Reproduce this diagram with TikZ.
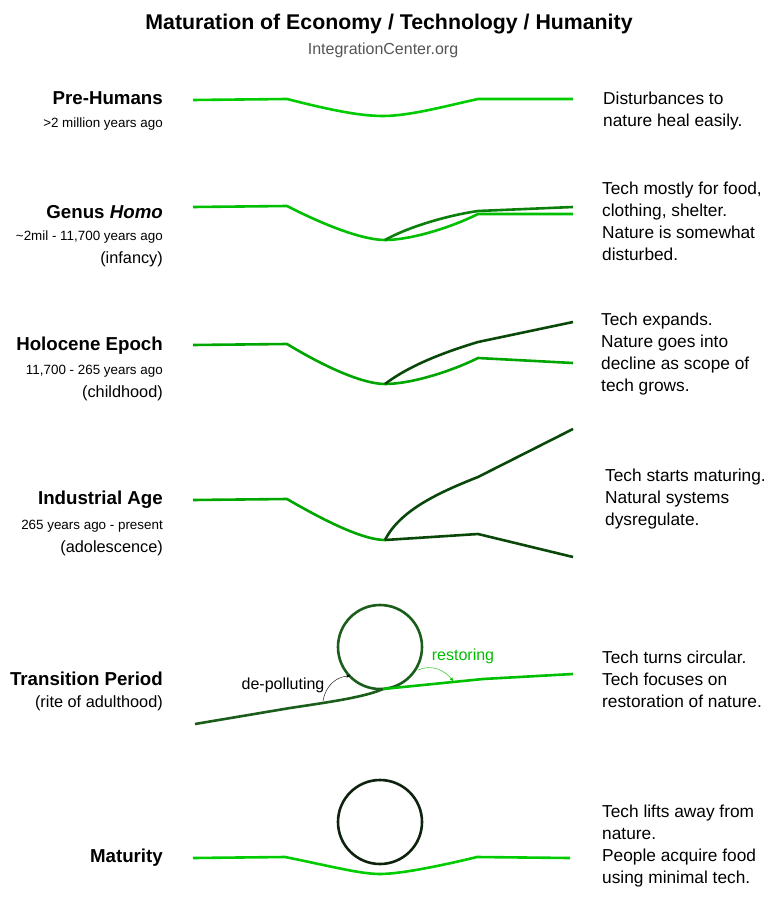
\documentclass[tikz,border=0pt]{standalone}
\usepackage{fontspec}
\setmainfont{Liberation Sans}
\usetikzlibrary{arrows}
\definecolor{natlight}{HTML}{00CC00}
\definecolor{natmid}{HTML}{00BE00}
\definecolor{natdark}{HTML}{00A600}
\definecolor{techmid}{HTML}{0A7F0A}
\definecolor{techdark}{HTML}{0A480A}
\definecolor{circ}{HTML}{1B5E1B}
\definecolor{circdark}{HTML}{0E220E}
\definecolor{webgray}{HTML}{555555}

\begin{document}
\begin{tikzpicture}[x=1pt, y=-1pt,
  ln/.style={line width=2.6pt, line join=round},
  lbl/.style={anchor=east, inner sep=0, font=\bfseries\fontsize{18.7}{22}\selectfont},
  when/.style={anchor=east, inner sep=0, font=\fontsize{13.4}{15}\selectfont},
  stage/.style={anchor=east, inner sep=0, font=\fontsize{16.3}{20}\selectfont},
  note/.style={anchor=west, inner sep=0, align=left, font=\fontsize{17.3}{22}\selectfont},
  tag/.style={inner sep=0, font=\fontsize{16}{20}\selectfont}]
\useasboundingbox (0,0) rectangle (774,901);

% title
\node[font=\bfseries\fontsize{21.3}{24}\selectfont] (title) at (389,24) {Maturation of Economy / Technology / Humanity};
\node[font=\fontsize{16}{18}\selectfont, text=webgray] (site) at (383,50) {IntegrationCenter.org};

% stages, left side
\node[lbl] (pre) at (163,98) {Pre-Humans};
\node[when] (preT) at (163,124) {>2 million years ago};
\node[lbl] (genus) at (163,212) {Genus \textit{Homo}};
\node[when] (genusT) at (163,237) {\textasciitilde2mil - 11,700 years ago};
\node[stage] (genusS) at (163,259) {(infancy)};
\node[lbl] (holo) at (163,346) {Holocene Epoch};
\node[when] (holoT) at (163,371) {11,700 - 265 years ago};
\node[stage] (holoS) at (163,393) {(childhood)};
\node[lbl] (indus) at (163,500) {Industrial Age};
\node[when] (indusT) at (163,526) {265 years ago - present};
\node[stage] (indusS) at (163,548) {(adolescence)};
\node[lbl] (trans) at (163,679) {Transition Period};
\node[stage] (transS) at (163,703) {(rite of adulthood)};
\node[lbl] (matur) at (163,858) {Maturity};

% notes, right side
\node[note] (preN) at (603,111) {Disturbances to\\nature heal easily.};
\node[note] (genusN) at (602,221) {Tech mostly for food,\\clothing, shelter.\\Nature is somewhat\\disturbed.};
\node[note] (holoN) at (601,354) {Tech expands.\\Nature goes into\\decline as scope of\\tech grows.};
\node[note] (indusN) at (605,499) {Tech starts maturing.\\Natural systems\\dysregulate.};
\node[note] (transN) at (602,679) {Tech turns circular.\\Tech focuses on\\restoration of nature.};
\node[note] (maturN) at (602,846) {Tech lifts away from\\nature.\\People acquire food\\using minimal tech.};

% pre-humans
\draw[ln, natlight] (193,100) -- (287,99) .. controls (330,110) and (360,116) .. (383,116)
  .. controls (410,116) and (450,105) .. (478,99) -- (573,99);
% genus homo
\draw[ln, natmid] (193,207) -- (287,206) .. controls (330,228) and (365,240) .. (385,240)
  .. controls (410,240) and (450,228) .. (478,214) -- (573,214);
\draw[ln, techmid] (385,240) .. controls (410,226) and (450,215) .. (478,211) -- (573,207);
% holocene
\draw[ln, natdark] (193,345) -- (287,344) .. controls (330,370) and (365,384) .. (385,384)
  .. controls (410,384) and (450,372) .. (478,358) -- (573,363);
\draw[ln, techdark] (385,384) .. controls (410,365) and (445,352) .. (478,342) -- (573,322);
% industrial
\draw[ln, natdark] (193,500) -- (287,499) .. controls (330,524) and (365,540) .. (385,540);
\draw[ln, techdark] (385,540) -- (478,534) -- (573,557);
\draw[ln, techdark] (385,540) .. controls (400,510) and (440,492) .. (478,477) -- (573,429);
% transition
\coordinate (loop) at (380,647);
\draw[ln, circ] (loop) circle (42);
\draw[ln, circ] (195,724) -- (290,708) .. controls (330,702) and (365,697) .. (383,689);
\draw[ln, natmid] (383,689) -- (483,679) -- (573,674);
\node[tag] (depol) at (283,685) {de-polluting};
\node[tag, text=natmid] (restor) at (463,656) {restoring};
\coordinate (dpA) at (323,701);
\coordinate (rsA) at (418,670);
\draw[thin, ->, >=stealth'] (dpA) .. controls (326,684) and (338,676) .. (350,676);
\draw[thin, natmid, ->, >=stealth'] (rsA) .. controls (432,664) and (445,670) .. (453,681);
% maturity
\draw[ln, circdark] (380,822) circle (42);
\draw[ln, natlight] (193,858) -- (285,857) .. controls (330,866) and (360,874) .. (380,874)
  .. controls (400,874) and (440,866) .. (477,857) -- (570,858);
\end{tikzpicture}
\end{document}
